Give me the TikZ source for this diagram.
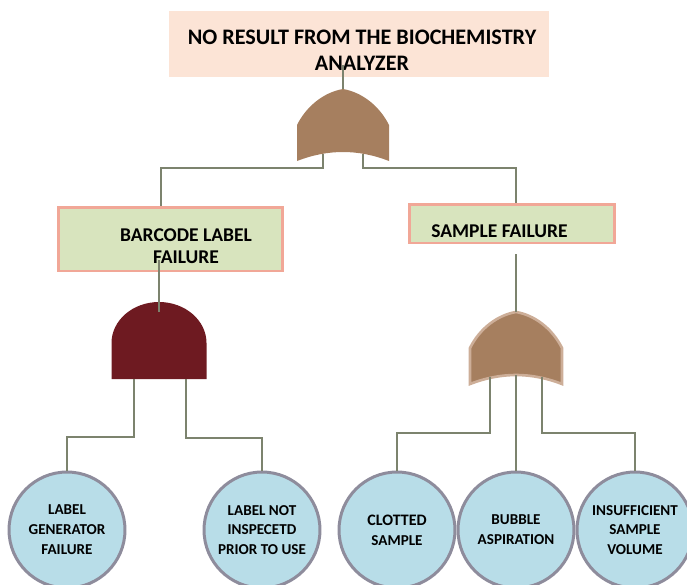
\documentclass[tikz,border=0pt]{standalone}
\usepackage{fontspec}
\setmainfont{Carlito}
\usepackage{xcolor}
\definecolor{peach}{HTML}{FCE4D6}
\definecolor{sage}{HTML}{D8E4BE}
\definecolor{salmon}{HTML}{F1A797}
\definecolor{wirecol}{HTML}{7C836E}
\definecolor{andred}{HTML}{6E1A21}
\definecolor{ortan}{HTML}{A67F5F}
\definecolor{orrim}{HTML}{CDAE98}
\definecolor{evblue}{HTML}{B8DDE8}
\definecolor{evrim}{HTML}{8E8C9C}

\tikzset{
  pics/orgate/.style={code={
    \path[fill=ortan, pic actions] (-46,72) -- (-46,36) .. controls (-36,16) and (-18,3) .. (0,0)
      .. controls (18,3) and (36,16) .. (46,36) -- (46,72) .. controls (15,60) and (-15,60) .. (-46,72) -- cycle;
    \coordinate (-top) at (0,0);
    \coordinate (-l) at (-#1,65);
    \coordinate (-m) at (0,63);
    \coordinate (-r) at (#1,65);
  }},
  pics/andgate/.style={code={
    \path[fill=andred] (-47.5,77) -- (-47.5,41) .. controls (-47.5,18.4) and (-26.2,0) .. (0,0)
      .. controls (26.2,0) and (47.5,18.4) .. (47.5,41) -- (47.5,77) -- cycle;
    \coordinate (-top) at (0,10);
    \coordinate (-l) at (-25,77);
    \coordinate (-r) at (27,77);
  }}
}

\begin{document}
\begin{tikzpicture}[x=0.02cm, y=-0.02cm,
  wire/.style={draw=wirecol, line width=0.8pt},
  gatebox/.style={fill=sage, draw=salmon, line width=1.7pt},
  boxtext/.style={align=center, font=\bfseries\fontsize{11.1}{12.5}\selectfont},
  event/.style={circle, fill=evblue, draw=evrim, line width=1.7pt, minimum size=2.32cm, inner sep=0,
    align=center, font=\bfseries\fontsize{8.6}{11.3}\selectfont}]

\useasboundingbox (0,0) rectangle (687,585);

% top event
\node[fill=peach, minimum width=7.62cm, minimum height=1.32cm] (top) at (359,44) {};
\node[align=center, font=\bfseries\fontsize{12.6}{14.7}\selectfont] (toptext) at (362,50)
  {NO RESULT FROM THE BIOCHEMISTRY\\ANALYZER};

% intermediate events
\node[gatebox, minimum width=4.5cm, minimum height=1.28cm] (barcode) at (170.5,239) {};
\node[boxtext] (barcodetext) at (186,246) {BARCODE LABEL\\FAILURE};
\node[gatebox, minimum width=4.12cm, minimum height=0.78cm] (sample) at (512,223.5) {};
\node[boxtext] (sampletext) at (499.5,231) {SAMPLE FAILURE};

% gates
\pic (orA) at (343,89) {orgate=20};
\pic (andA) at (159,302) {andgate};
\pic[draw=orrim, line width=1.5pt] (orB) at (516,312) {orgate=26};

% basic events
\node[event] (lgf) at (67,530) {LABEL\\GENERATOR\\FAILURE};
\node[event] (lni) at (262,530) {LABEL NOT\\INSPECETD\\PRIOR TO USE};
\node[event] (clot) at (397,530) {\fontsize{9.1}{11}\selectfont CLOTTED\\SAMPLE};
\node[event] (bubble) at (516,530) {BUBBLE\\ASPIRATION};
\node[event] (insuf) at (635,530) {INSUFFICIENT\\SAMPLE\\VOLUME};

% wires
\draw[wire] (orA-top) -- ++(0,-24);
\draw[wire] (orA-l) -- ++(0,14) -| ([xshift=-0.19cm]barcode.north);
\draw[wire] (orA-r) -- ++(0,14) -| ([xshift=0.08cm]sample.north);
\draw[wire] (andA-top) -- ++(0,-52);
\draw[wire] (andA-l) -- ++(0,58) -| (lgf.north);
\draw[wire] (andA-r) -- ++(0,59) -| (lni.north);
\draw[wire] (orB-top) -- ++(0,-58);
\draw[wire] (orB-l) -- ++(0,56) -| (clot.north);
\draw[wire] (orB-m) -- (bubble.north);
\draw[wire] (orB-r) -- ++(0,56) -| (insuf.north);

\end{tikzpicture}
\end{document}
